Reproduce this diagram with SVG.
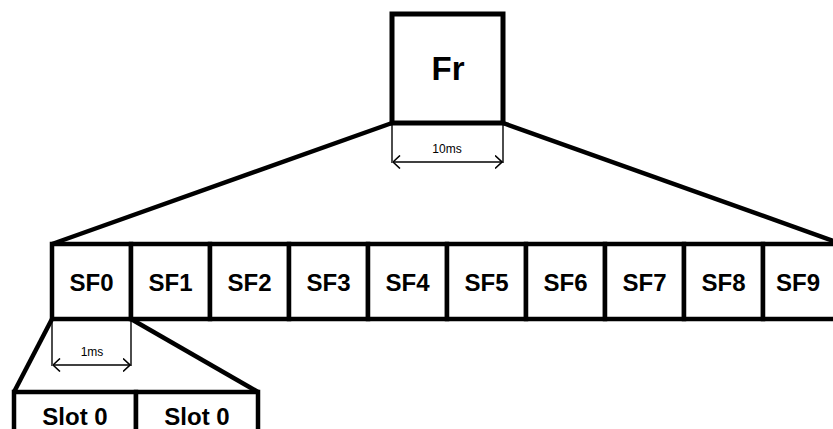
<svg xmlns="http://www.w3.org/2000/svg" width="833" height="429" viewBox="0 0 833 429">
<style>
.box{fill:#fff;stroke:#000;stroke-width:5}
.cell{fill:#fff;stroke:#000;stroke-width:4.5}
.lbl{font-family:"Liberation Sans",Arial,sans-serif;font-weight:bold;fill:#000;text-anchor:middle}
.sf{font-size:24px}
.dim{font-family:"Liberation Sans",Arial,sans-serif;font-size:12px;fill:#000;text-anchor:middle}
.thin{stroke:#000;stroke-width:1.4;fill:none}
.fan{stroke:#000;stroke-width:4.5;fill:none}
</style>
<defs>
<marker id="ah" viewBox="0 0 8 14" refX="7.5" refY="7" markerWidth="8" markerHeight="14" markerUnits="userSpaceOnUse" orient="auto-start-reverse">
<path d="M0.5,0.5 L7.5,7 L0.5,13.5" fill="none" stroke="#000" stroke-width="1.6"/>
</marker>
</defs>
<g id="connectors">
<line class="fan" x1="392" y1="123" x2="52" y2="244"/>
<line class="fan" x1="503" y1="123" x2="842" y2="244"/>
<line class="fan" x1="52" y1="319" x2="14" y2="392"/>
<line class="fan" x1="131" y1="319" x2="258" y2="392"/>
<line class="thin" x1="392" y1="123" x2="392" y2="163"/>
<line class="thin" x1="503" y1="123" x2="503" y2="163"/>
<line class="thin" x1="393" y1="162" x2="502" y2="162" marker-start="url(#ah)" marker-end="url(#ah)"/>
<line class="thin" x1="52" y1="319" x2="52" y2="366"/>
<line class="thin" x1="131" y1="319" x2="131" y2="366"/>
<line class="thin" x1="53" y1="365" x2="130" y2="365" marker-start="url(#ah)" marker-end="url(#ah)"/>
</g>
<g id="fr">
<rect class="box" x="392" y="14" width="111" height="109"/>
<text class="lbl" x="448" y="80" font-size="33">Fr</text>
</g>
<text class="dim" x="447" y="153">10ms</text>
<text class="dim" x="92" y="356">1ms</text>
<g id="sf0"><rect class="cell" x="52" y="244" width="79" height="75"/><text class="lbl sf" x="91.5" y="291">SF0</text></g>
<g id="sf1"><rect class="cell" x="131" y="244" width="79" height="75"/><text class="lbl sf" x="170.5" y="291">SF1</text></g>
<g id="sf2"><rect class="cell" x="210" y="244" width="79" height="75"/><text class="lbl sf" x="249.5" y="291">SF2</text></g>
<g id="sf3"><rect class="cell" x="289" y="244" width="79" height="75"/><text class="lbl sf" x="328.5" y="291">SF3</text></g>
<g id="sf4"><rect class="cell" x="368" y="244" width="79" height="75"/><text class="lbl sf" x="407.5" y="291">SF4</text></g>
<g id="sf5"><rect class="cell" x="447" y="244" width="79" height="75"/><text class="lbl sf" x="486.5" y="291">SF5</text></g>
<g id="sf6"><rect class="cell" x="526" y="244" width="79" height="75"/><text class="lbl sf" x="565.5" y="291">SF6</text></g>
<g id="sf7"><rect class="cell" x="605" y="244" width="79" height="75"/><text class="lbl sf" x="644.5" y="291">SF7</text></g>
<g id="sf8"><rect class="cell" x="684" y="244" width="79" height="75"/><text class="lbl sf" x="723.5" y="291">SF8</text></g>
<g id="sf9"><rect class="cell" x="763" y="244" width="79" height="75"/><text class="lbl sf" x="798" y="291">SF9</text></g>
<g id="slot0a"><rect class="cell" x="14" y="392" width="122" height="60"/><text class="lbl sf" x="75" y="425">Slot 0</text></g>
<g id="slot0b"><rect class="cell" x="136" y="392" width="122" height="60"/><text class="lbl sf" x="197" y="425">Slot 0</text></g>
</svg>
